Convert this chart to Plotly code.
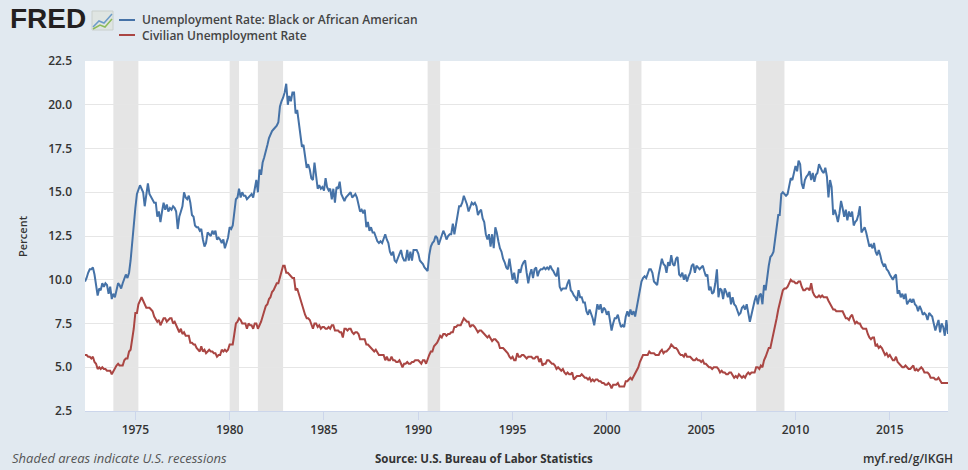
import pandas as pd
import plotly.graph_objects as go

# monthly observations, first one is May 1972, last one Feb 2018
start_month = '1972-05-01'

black_rate = [
    9.9, 10.1, 10.4, 10.6, 10.6, 10.7, 10.3, 9.6,                          # 1972 (May-Dec)
    9.1, 9.5, 9.4, 9.8, 9.6, 9.8, 9.7, 9.2, 9.6, 8.9, 9.2, 9.0,             # 1973
    9.4, 9.8, 9.7, 9.5, 9.8, 10.1, 10.3, 10.1, 10.4, 11.1, 12.3, 13.2,      # 1974
    14.1, 14.9, 15.2, 15.4, 15.2, 15.0, 14.2, 15.0, 15.5, 14.9, 14.7, 14.6, # 1975
    14.4, 14.4, 13.6, 13.9, 13.3, 13.9, 14.4, 14.0, 14.3, 13.9, 14.1, 14.0, # 1976
    14.2, 14.1, 13.9, 12.9, 13.6, 13.9, 14.2, 15.0, 14.7, 14.6, 14.8, 14.4, # 1977
    13.7, 13.6, 13.1, 13.0, 13.0, 12.8, 12.9, 12.3, 11.9, 12.1, 12.7, 12.6, # 1978
    12.5, 12.8, 12.6, 12.8, 12.3, 12.4, 12.3, 12.1, 12.3, 11.8, 12.1, 12.4, # 1979
    13.0, 12.9, 13.1, 14.0, 14.6, 14.7, 15.2, 14.7, 15.0, 14.8, 14.8, 14.6, # 1980
    14.7, 14.8, 14.9, 14.7, 15.1, 15.7, 15.0, 16.3, 16.0, 16.7, 17.0, 17.3, # 1981
    17.7, 18.1, 18.3, 18.5, 18.6, 18.7, 18.8, 19.0, 19.9, 20.2, 20.4, 20.7, # 1982
    21.2, 20.0, 20.5, 20.2, 20.7, 20.7, 19.5, 19.7, 18.9, 18.2, 17.6, 17.7, # 1983
    17.0, 16.4, 16.6, 16.3, 15.8, 15.7, 16.7, 15.9, 15.2, 15.4, 15.2, 15.3, # 1984
    15.1, 15.8, 15.3, 15.1, 15.2, 14.6, 15.2, 14.4, 15.3, 15.2, 15.6, 14.9, # 1985
    14.7, 14.5, 14.7, 14.8, 14.9, 15.0, 14.7, 14.8, 14.9, 14.7, 14.2, 13.9, # 1986
    14.0, 13.8, 14.0, 13.0, 13.3, 12.8, 13.0, 12.7, 12.7, 12.4, 12.2, 12.1, # 1987
    12.2, 12.1, 12.4, 12.6, 12.3, 12.1, 11.6, 11.4, 11.6, 11.1, 11.0, 11.2, # 1988
    11.5, 11.7, 11.3, 11.1, 11.1, 11.7, 11.1, 11.6, 11.1, 11.7, 11.7, 11.7, # 1989
    11.5, 11.1, 11.0, 10.9, 10.7, 10.6, 10.5, 11.4, 11.9, 12.1, 12.2, 12.5, # 1990
    12.4, 12.0, 12.3, 12.6, 12.8, 12.6, 12.3, 12.5, 12.6, 12.6, 13.2, 12.6, # 1991
    13.2, 13.8, 14.2, 14.2, 14.4, 14.8, 14.6, 14.3, 13.9, 14.2, 14.4, 14.3, # 1992
    14.4, 14.2, 13.7, 13.9, 14.0, 13.5, 13.3, 12.6, 12.3, 12.6, 11.9, 12.6, # 1993
    11.8, 13.0, 12.7, 12.2, 11.8, 11.6, 11.2, 11.0, 10.7, 10.6, 11.2, 10.6, # 1994
    10.0, 10.4, 9.9, 9.8, 10.6, 10.4, 10.8, 11.0, 11.1, 10.4, 9.8, 10.3,    # 1995
    10.6, 10.1, 10.6, 10.7, 10.2, 10.5, 10.6, 10.6, 10.7, 10.6, 10.7, 10.6, # 1996
    10.8, 10.6, 10.5, 10.3, 10.2, 10.7, 9.6, 9.4, 9.5, 9.5, 9.5, 9.8,       # 1997
    10.0, 9.4, 9.3, 9.1, 9.0, 8.8, 9.4, 9.0, 9.0, 8.7, 8.7, 8.2,            # 1998
    8.0, 8.3, 8.1, 7.8, 7.4, 7.9, 8.6, 8.3, 8.6, 8.1, 8.4, 8.3,             # 1999
    8.0, 8.2, 7.7, 7.1, 7.5, 7.8, 7.8, 8.0, 7.6, 7.3, 7.4, 7.3,             # 2000
    7.9, 8.2, 7.9, 8.3, 8.0, 8.2, 7.9, 8.4, 9.0, 9.4, 9.9, 10.1,            # 2001
    10.2, 10.1, 10.4, 10.6, 10.6, 10.4, 9.9, 9.8, 9.7, 10.3, 10.7, 11.2,    # 2002
    10.9, 10.8, 10.4, 11.0, 10.8, 11.4, 10.9, 10.8, 11.2, 11.3, 10.3, 10.2, # 2003
    10.4, 10.0, 10.3, 9.9, 10.2, 10.4, 10.8, 10.9, 10.4, 10.8, 10.7, 10.6,  # 2004
    10.7, 10.8, 10.5, 10.2, 10.3, 9.4, 9.6, 9.2, 9.3, 9.8, 10.6, 9.0,       # 2005
    9.5, 9.4, 8.9, 9.5, 9.3, 9.0, 9.3, 8.6, 9.0, 8.6, 8.5, 8.3,             # 2006
    8.0, 8.1, 8.4, 8.5, 8.3, 8.6, 8.0, 7.6, 8.0, 8.5, 8.8, 9.1,             # 2007
    8.6, 9.1, 9.2, 8.6, 9.7, 9.4, 10.2, 10.8, 11.3, 11.4, 11.6, 12.3,       # 2008
    12.7, 13.7, 13.7, 14.9, 15.0, 14.9, 14.8, 14.9, 15.5, 15.8, 15.7, 16.2, # 2009
    16.5, 16.2, 16.8, 16.6, 15.5, 15.2, 15.7, 15.9, 16.0, 16.2, 15.7, 16.1, # 2010
    15.6, 16.0, 16.1, 16.6, 16.4, 16.2, 16.1, 16.4, 15.9, 14.7, 15.7, 15.3, # 2011
    13.7, 14.0, 13.7, 13.3, 13.8, 14.5, 14.1, 13.6, 14.0, 13.4, 13.9, 13.6, # 2012
    13.9, 13.1, 13.3, 13.4, 13.7, 14.2, 12.7, 12.9, 13.0, 12.7, 12.3, 11.9, # 2013
    12.0, 11.8, 12.1, 11.6, 11.4, 11.7, 11.4, 11.0, 10.8, 10.9, 10.6, 10.5, # 2014
    10.3, 10.1, 10.0, 10.2, 10.3, 9.2, 9.4, 9.0, 9.2, 8.9, 9.2, 8.6,        # 2015
    8.8, 8.9, 8.7, 8.9, 8.6, 8.5, 8.2, 8.5, 8.3, 8.0, 8.1, 8.0,             # 2016
    7.7, 8.1, 8.0, 7.9, 7.5, 7.1, 7.4, 7.7, 7.0, 7.5, 7.3, 6.8,             # 2017
    7.7, 6.9,                                                                # 2018 (Jan-Feb)
]

civilian_rate = [
    5.7, 5.7, 5.6, 5.6, 5.5, 5.6, 5.3, 5.2,                                  # 1972 (May-Dec)
    4.9, 5.0, 4.9, 5.0, 4.9, 4.9, 4.8, 4.8, 4.8, 4.6, 4.8, 4.9,             # 1973
    5.1, 5.2, 5.1, 5.1, 5.1, 5.4, 5.5, 5.5, 5.9, 6.0, 6.6, 7.2,             # 1974
    8.1, 8.1, 8.6, 8.8, 9.0, 8.8, 8.6, 8.4, 8.4, 8.4, 8.3, 8.2,             # 1975
    7.9, 7.7, 7.6, 7.7, 7.4, 7.6, 7.8, 7.8, 7.6, 7.7, 7.8, 7.8,             # 1976
    7.5, 7.6, 7.4, 7.2, 7.0, 7.2, 6.9, 7.0, 6.8, 6.8, 6.8, 6.4,             # 1977
    6.4, 6.3, 6.3, 6.1, 6.0, 5.9, 6.2, 5.9, 6.0, 5.8, 5.9, 6.0,             # 1978
    5.9, 5.9, 5.8, 5.8, 5.6, 5.7, 5.7, 6.0, 5.9, 6.0, 5.9, 6.0,             # 1979
    6.3, 6.3, 6.3, 6.9, 7.5, 7.6, 7.8, 7.7, 7.5, 7.5, 7.5, 7.2,             # 1980
    7.5, 7.4, 7.4, 7.2, 7.5, 7.5, 7.2, 7.4, 7.6, 7.9, 8.3, 8.5,             # 1981
    8.6, 8.9, 9.0, 9.3, 9.4, 9.6, 9.8, 9.8, 10.1, 10.4, 10.8, 10.8,         # 1982
    10.4, 10.4, 10.3, 10.2, 10.1, 10.1, 9.4, 9.5, 9.2, 8.8, 8.5, 8.3,       # 1983
    8.0, 7.8, 7.8, 7.7, 7.4, 7.2, 7.5, 7.5, 7.3, 7.4, 7.2, 7.3,             # 1984
    7.3, 7.2, 7.2, 7.3, 7.2, 7.4, 7.4, 7.1, 7.1, 7.1, 7.0, 7.0,             # 1985
    6.7, 7.2, 7.2, 7.1, 7.2, 7.2, 7.0, 6.9, 7.0, 7.0, 6.9, 6.6,             # 1986
    6.6, 6.6, 6.6, 6.3, 6.3, 6.2, 6.1, 6.0, 5.9, 6.0, 5.8, 5.7,             # 1987
    5.7, 5.7, 5.7, 5.4, 5.6, 5.4, 5.4, 5.6, 5.4, 5.4, 5.3, 5.3,             # 1988
    5.4, 5.2, 5.0, 5.2, 5.2, 5.3, 5.2, 5.2, 5.3, 5.3, 5.4, 5.4,             # 1989
    5.4, 5.3, 5.2, 5.4, 5.4, 5.2, 5.5, 5.7, 5.9, 5.9, 6.2, 6.3,             # 1990
    6.4, 6.6, 6.8, 6.7, 6.9, 6.9, 6.8, 6.9, 6.9, 7.0, 7.0, 7.3,             # 1991
    7.3, 7.4, 7.4, 7.4, 7.6, 7.8, 7.7, 7.6, 7.6, 7.3, 7.4, 7.4,             # 1992
    7.3, 7.1, 7.0, 7.1, 7.1, 7.0, 6.9, 6.8, 6.7, 6.8, 6.6, 6.5,             # 1993
    6.6, 6.6, 6.5, 6.4, 6.1, 6.1, 6.1, 6.0, 5.9, 5.8, 5.6, 5.5,             # 1994
    5.6, 5.4, 5.4, 5.8, 5.6, 5.6, 5.7, 5.7, 5.6, 5.5, 5.6, 5.6,             # 1995
    5.6, 5.5, 5.5, 5.6, 5.6, 5.3, 5.5, 5.1, 5.2, 5.2, 5.4, 5.4,             # 1996
    5.3, 5.2, 5.2, 5.1, 4.9, 5.0, 4.9, 4.8, 4.9, 4.7, 4.6, 4.7,             # 1997
    4.6, 4.6, 4.7, 4.3, 4.4, 4.5, 4.5, 4.5, 4.6, 4.5, 4.4, 4.4,             # 1998
    4.3, 4.4, 4.2, 4.3, 4.2, 4.3, 4.3, 4.2, 4.2, 4.1, 4.1, 4.0,             # 1999
    4.0, 4.1, 4.0, 3.8, 4.0, 4.0, 4.0, 4.1, 3.9, 3.9, 3.9, 3.9,             # 2000
    4.2, 4.2, 4.3, 4.4, 4.3, 4.5, 4.6, 4.9, 5.0, 5.3, 5.5, 5.7,             # 2001
    5.7, 5.7, 5.7, 5.9, 5.8, 5.8, 5.8, 5.7, 5.7, 5.7, 5.9, 6.0,             # 2002
    5.8, 5.9, 5.9, 6.0, 6.1, 6.3, 6.2, 6.1, 6.1, 6.0, 5.8, 5.7,             # 2003
    5.7, 5.6, 5.8, 5.6, 5.6, 5.6, 5.5, 5.4, 5.4, 5.5, 5.4, 5.4,             # 2004
    5.3, 5.4, 5.2, 5.2, 5.1, 5.0, 5.0, 4.9, 5.0, 5.0, 5.0, 4.9,             # 2005
    4.7, 4.8, 4.7, 4.7, 4.6, 4.6, 4.7, 4.7, 4.5, 4.4, 4.5, 4.4,             # 2006
    4.6, 4.5, 4.4, 4.5, 4.4, 4.6, 4.7, 4.6, 4.7, 4.7, 4.7, 5.0,             # 2007
    5.0, 4.9, 5.1, 5.0, 5.4, 5.6, 5.8, 6.1, 6.1, 6.5, 6.8, 7.3,             # 2008
    7.8, 8.3, 8.7, 9.0, 9.4, 9.5, 9.5, 9.6, 9.8, 10.0, 9.9, 9.9,            # 2009
    9.8, 9.8, 9.9, 9.9, 9.6, 9.4, 9.4, 9.5, 9.5, 9.4, 9.8, 9.3,             # 2010
    9.1, 9.0, 9.0, 9.1, 9.0, 9.1, 9.0, 9.0, 9.0, 8.8, 8.6, 8.5,             # 2011
    8.3, 8.3, 8.2, 8.2, 8.2, 8.2, 8.2, 8.0, 7.8, 7.8, 7.7, 7.9,             # 2012
    8.0, 7.7, 7.5, 7.6, 7.5, 7.5, 7.3, 7.2, 7.2, 7.2, 6.9, 6.7,             # 2013
    6.6, 6.7, 6.7, 6.2, 6.3, 6.1, 6.2, 6.1, 5.9, 5.7, 5.8, 5.6,             # 2014
    5.7, 5.5, 5.4, 5.4, 5.6, 5.3, 5.2, 5.1, 5.0, 5.0, 5.1, 5.0,             # 2015
    4.9, 4.9, 5.0, 5.1, 4.8, 4.9, 4.8, 4.9, 5.0, 4.9, 4.7, 4.7,             # 2016
    4.7, 4.6, 4.4, 4.4, 4.4, 4.3, 4.3, 4.4, 4.2, 4.1, 4.1, 4.1,             # 2017
    4.1, 4.1,                                                                # 2018 (Jan-Feb)
]

# NBER recessions (peak month, trough month)
recession_start = ['1973-11-01', '1980-01-01', '1981-07-01', '1990-07-01', '2001-03-01', '2007-12-01']
recession_end = ['1975-03-01', '1980-07-01', '1982-11-01', '1991-03-01', '2001-11-01', '2009-06-01']

series_names = ['Unemployment Rate: Black or African American', 'Civilian Unemployment Rate']
series_colors = ['#4572A7', '#AA4643']

y_ticks = [2.5, 5.0, 7.5, 10.0, 12.5, 15.0, 17.5, 20.0, 22.5]

dates = pd.date_range(start_month, periods=len(black_rate), freq='MS')

# plot area in pixels (left, right, top, bottom) - used to place the header/footer bits
W, H = 968, 470
L, R, T, B = 85, 948, 61, 411


def px(x):
    return (x - L) / (R - L)


def py(y):
    return (B - y) / (B - T)


font_main = 'Open Sans, Liberation Sans, Arial, sans-serif'

fig = go.Figure()
for vals, name, color in zip([black_rate, civilian_rate], series_names, series_colors):
    fig.add_trace(go.Scatter(x=dates, y=vals, name=name, mode='lines',
                             line=dict(color=color, width=2)))

for s, e in zip(recession_start, recession_end):
    fig.add_shape(type='rect', xref='x', yref='paper', x0=s, x1=e, y0=0, y1=1,
                  fillcolor='#e5e5e5', line=dict(width=0), layer='between')

# custom legend in the header
for i, (name, color) in enumerate(zip(series_names, series_colors)):
    yy = 20 + 15 * i
    fig.add_shape(type='line', xref='paper', yref='paper', x0=px(119), x1=px(135),
                  y0=py(yy), y1=py(yy), line=dict(color=color, width=2))
    fig.add_annotation(x=px(140), y=py(yy), xref='paper', yref='paper', text=name,
                       showarrow=False, xanchor='left', yanchor='middle',
                       font=dict(size=12, color='#444', family=font_main, weight=600))

# FRED logo text + little chart icon
fig.add_annotation(x=px(8), y=py(19), xref='paper', yref='paper', text='FRED',
                   showarrow=False, xanchor='left', yanchor='middle',
                   font=dict(size=28, color='#231f20', family='Liberation Sans, Arial', weight=900))
fig.add_shape(type='rect', xref='paper', yref='paper', x0=px(92), x1=px(113), y0=py(30), y1=py(11),
              fillcolor='#dfe5e2', line=dict(color='#c9d0cc', width=1))
fig.add_shape(type='path', xref='paper', yref='paper',
              path='M %f,%f L %f,%f L %f,%f L %f,%f' % (px(93), py(27), px(99), py(21), px(104), py(23), px(112), py(14)),
              line=dict(color='#6b9bc8', width=1.5))
fig.add_shape(type='path', xref='paper', yref='paper',
              path='M %f,%f L %f,%f L %f,%f L %f,%f' % (px(93), py(29), px(100), py(25), px(105), py(27), px(112), py(19)),
              line=dict(color='#8dbb5a', width=1.5))

# y axis title
fig.add_annotation(x=px(22), y=py(236), xref='paper', yref='paper', text='Percent',
                   showarrow=False, textangle=-90, xanchor='center', yanchor='middle',
                   font=dict(size=11, color='#333', family=font_main, weight=600))

# footer
fig.add_annotation(x=px(10), y=py(458), xref='paper', yref='paper',
                   text='<i>Shaded areas indicate U.S. recessions</i>', showarrow=False,
                   xanchor='left', yanchor='middle', font=dict(size=13, color='#555', family=font_main))
fig.add_annotation(x=px(484), y=py(458), xref='paper', yref='paper',
                   text='Source: U.S. Bureau of Labor Statistics', showarrow=False,
                   xanchor='center', yanchor='middle',
                   font=dict(size=11.5, color='#333', family=font_main, weight=700))
fig.add_annotation(x=px(955), y=py(458), xref='paper', yref='paper', text='myf.red/g/IKGH',
                   showarrow=False, xanchor='right', yanchor='middle',
                   font=dict(size=12, color='#333', family=font_main, weight=600))

fig.update_xaxes(type='date', range=[dates[0], dates[-1]], tick0='1975-01-01', dtick='M60',
                 tickformat='%Y', showgrid=False, showline=True, linecolor='#ccd6eb', linewidth=1,
                 ticks='outside', ticklen=8, tickcolor='#ccd6eb', zeroline=False,
                 tickfont=dict(size=12, color='#333', family=font_main, weight=600))
fig.update_yaxes(range=[2.5, 22.5], tickvals=y_ticks, tickformat='.1f', showgrid=True,
                 gridcolor='#e6e6e6', gridwidth=1, zeroline=False, showline=False,
                 ticks='', ticklabelstandoff=12,
                 tickfont=dict(size=12, color='#333', family=font_main, weight=600))

fig.update_layout(width=W, height=H, showlegend=False,
                  margin=dict(l=L, r=W - R, t=T, b=H - B),
                  paper_bgcolor='#e1e9f0', plot_bgcolor='white',
                  hovermode='x unified')

# the page body has a default 8px margin; remove it so the figure fills the window
fig.write_html('out.html', config={'displayModeBar': False},
               post_script="document.body.style.margin='0';document.body.style.overflow='hidden';")
